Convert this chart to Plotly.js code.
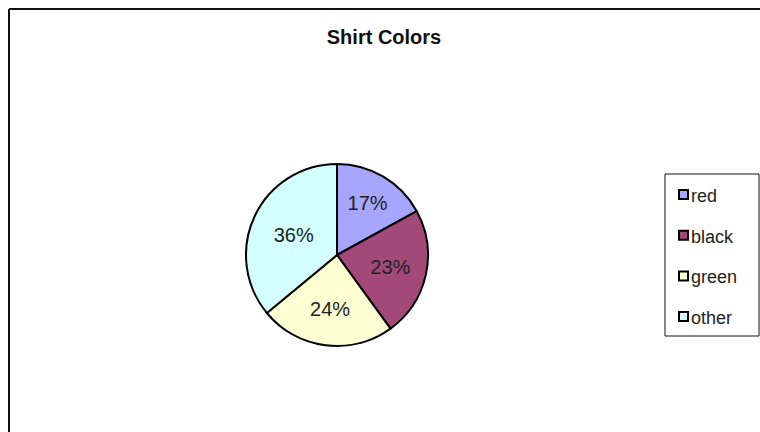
<!DOCTYPE html>
<html>
<head>
<meta charset="utf-8">
<script src="https://cdn.plot.ly/plotly-3.0.1.min.js"></script>
<style>
  html, body { margin: 0; padding: 0; background: #ffffff; }
  #chart { width: 760px; height: 432px; }
</style>
</head>
<body>
<div id="chart"></div>
<script>
// Shirt colour shares (percent)
const labels = ["red", "black", "green", "other"];
const values = [17, 23, 24, 36];
const sliceColors = ["#A6A6FF", "#A2497A", "#FFFFD4", "#D4FFFF"];

const W = 760, H = 432;
const px = x => x / W;
const py = y => 1 - y / H;

// Pie occupies a square box centred at (337, 255) with radius 91
const cx = 337, cy = 255, r = 91;

const pie = {
  type: "pie",
  labels: labels,
  values: values,
  sort: false,
  direction: "clockwise",
  rotation: 0,
  marker: { colors: sliceColors, line: { color: "#000000", width: 2 } },
  textinfo: "percent",
  textposition: "inside",
  insidetextorientation: "horizontal",
  textfont: { family: "Liberation Sans, Arial, sans-serif", size: 20, color: "#222222" },
  hoverinfo: "label+percent",
  showlegend: false,
  domain: { x: [px(cx - r), px(cx + r)], y: [py(cy + r), py(cy - r)] }
};

// Chart frame (left and top edges of the chart area)
const shapes = [
  { type: "line", xref: "paper", yref: "paper", x0: px(9), x1: px(9), y0: py(9), y1: py(440),
    line: { color: "#111111", width: 2 } },
  { type: "line", xref: "paper", yref: "paper", x0: px(9), x1: px(770), y0: py(9), y1: py(9),
    line: { color: "#111111", width: 2 } },
  // legend box
  { type: "rect", xref: "paper", yref: "paper", x0: px(665), x1: px(759), y0: py(174), y1: py(336),
    line: { color: "#111111", width: 1 }, fillcolor: "rgba(0,0,0,0)" }
];

const annotations = [];
const legendTop = 196, legendStep = 40.7;
labels.forEach((lab, i) => {
  const yc = legendTop + i * legendStep;
  shapes.push({
    type: "rect", xref: "paper", yref: "paper",
    x0: px(679), x1: px(688), y0: py(yc - 6), y1: py(yc + 3),
    line: { color: "#000000", width: 2 }, fillcolor: sliceColors[i]
  });
  annotations.push({
    xref: "paper", yref: "paper", x: px(689), y: py(yc),
    xanchor: "left", yanchor: "middle", showarrow: false, text: lab,
    font: { family: "Liberation Sans, Arial, sans-serif", size: 18, color: "#222222" }
  });
});

const layout = {
  width: W, height: H,
  margin: { l: 0, r: 0, t: 0, b: 0 },
  paper_bgcolor: "#ffffff",
  title: {
    text: "<b>Shirt Colors</b>",
    x: px(384), xanchor: "center",
    y: py(37), yanchor: "middle",
    font: { family: "Liberation Sans, Arial, sans-serif", size: 20, color: "#111111" }
  },
  showlegend: false,
  shapes: shapes,
  annotations: annotations
};

Plotly.newPlot("chart", [pie], layout, { displayModeBar: false, staticPlot: true });
</script>
</body>
</html>
